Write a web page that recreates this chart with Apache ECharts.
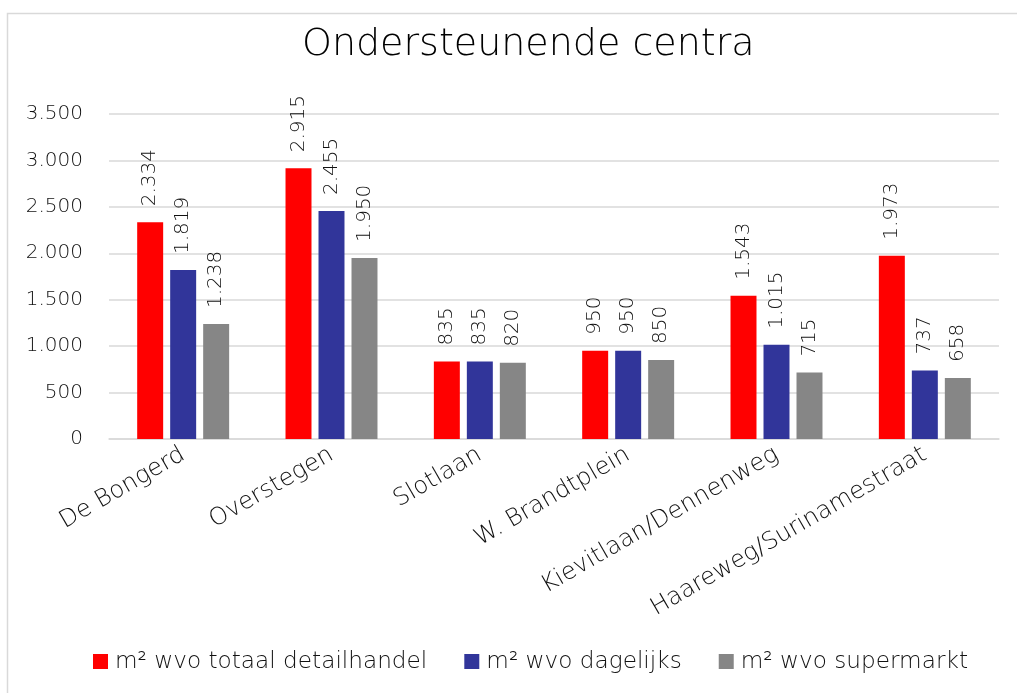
<!DOCTYPE html>
<html><head><meta charset="utf-8">
<script src="https://cdn.jsdelivr.net/npm/echarts@6/dist/echarts.min.js"></script>
<style>html,body{margin:0;padding:0;background:#fff}#c{width:1017px;height:693px}</style>
</head><body><div id="c"></div>
<script>
const categories = ['De Bongerd','Overstegen','Slotlaan','W. Brandtplein','Kievitlaan/Dennenweg','Haareweg/Surinamestraat'];
const seriesNames = ['m² wvo totaal detailhandel','m² wvo dagelijks','m² wvo supermarkt'];
const totaal = [2334, 2915, 835, 950, 1543, 1973];
const dagelijks = [1819, 2455, 835, 950, 1015, 737];
const supermarkt = [1238, 1950, 820, 850, 715, 658];
const colors = ['#FF0000', '#31359A', '#868686'];
const FONT = 'DejaVu Sans';
const FW = 200;
function fmt(v){ return String(v).replace(/\B(?=(\d{3})+(?!\d))/g, '.'); }
const chart = echarts.init(document.getElementById('c'), null, {renderer:'canvas'});
const mk = (name, data, color) => ({
  name, type:'bar', data, barGap:'27%', barCategoryGap:'38%',
  itemStyle:{color},
  label:{show:true, position:'top', rotate:90, align:'left', verticalAlign:'middle', distance:16,
    formatter:p=>fmt(p.value), fontFamily:FONT, fontWeight:FW, fontSize:20, color:'#111'}
});
chart.setOption({
  animation:false,
  textStyle:{fontFamily:FONT},
  graphic:[{type:'rect', shape:{x:7.5, y:13.5, width:1100, height:1000}, style:{fill:'none', stroke:'#D9D9D9', lineWidth:1.5}, silent:true}],
  title:{text:'Ondersteunende centra', left:297, top:21, textStyle:{fontFamily:FONT, fontSize:38, fontWeight:FW, color:'#000'}},
  legend:{bottom:15, left:88, itemWidth:15, itemHeight:15, itemGap:37, icon:'rect',
    textStyle:{fontFamily:FONT, fontWeight:FW, fontSize:23.2, color:'#111', padding:[0,0,0,2]}},
  grid:{left:109, right:18, top:114, bottom:254, containLabel:false},
  xAxis:{type:'category', data:categories,
    axisLine:{lineStyle:{color:'#D9D9D9', width:1.5}}, axisTick:{show:false},
    axisLabel:{rotate:30, margin:14, interval:0, fontFamily:FONT, fontWeight:FW, fontSize:24, color:'#111'}},
  yAxis:{type:'value', min:0, max:3500, interval:500,
    axisLine:{show:false}, axisTick:{show:false},
    splitLine:{lineStyle:{color:'#D9D9D9', width:1.5}},
    axisLabel:{margin:26, formatter:v=>fmt(v), fontFamily:FONT, fontWeight:FW, fontSize:20, color:'#111'}},
  series:[mk(seriesNames[0], totaal, colors[0]), mk(seriesNames[1], dagelijks, colors[1]), mk(seriesNames[2], supermarkt, colors[2])]
});
</script></body></html>
